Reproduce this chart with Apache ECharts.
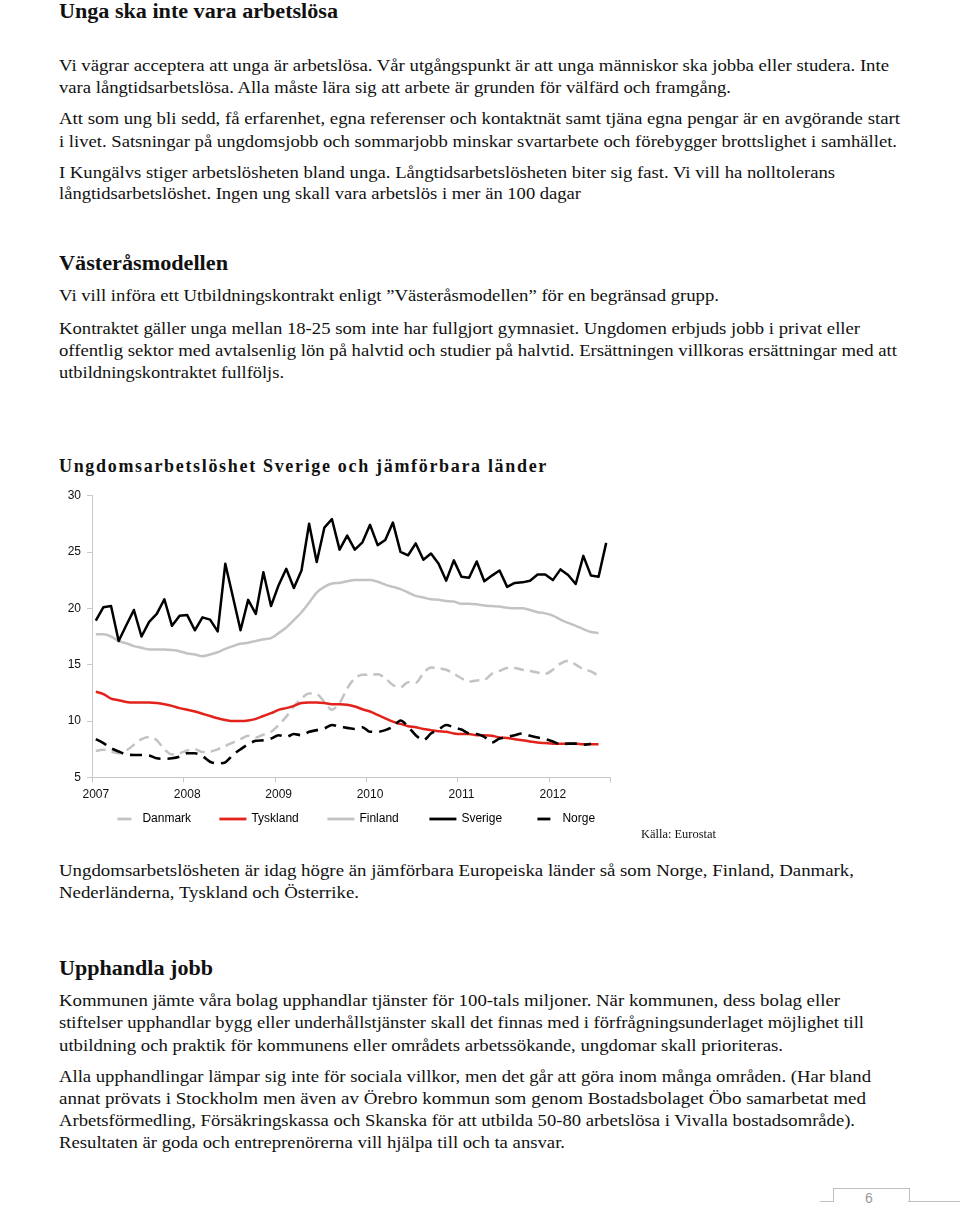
<!DOCTYPE html>
<html>
<head>
<meta charset="utf-8">
<script src="https://cdn.jsdelivr.net/npm/echarts@6/dist/echarts.min.js"></script>
<style>
  html, body { margin: 0; padding: 0; background: #fff; }
  body { width: 960px; height: 1209px; position: relative; overflow: hidden; font-family: "Liberation Serif", "DejaVu Serif", serif; color: #111; }
  .ln { position: absolute; left: 59px; white-space: nowrap; font-size: 16px; line-height: 22px; transform-origin: 0 50%; }
  .h { font-weight: bold; font-size: 20px; line-height: 26px; }
  .ct { font-weight: bold; font-size: 18px; line-height: 22px; }
  #chart { position: absolute; left: 0; top: 450px; width: 700px; height: 400px; }
  .src { position: absolute; left: 641px; white-space: nowrap; font-size: 12px; line-height: 14px; transform-origin: 0 50%; }
  .pg { position: absolute; border-color: #bfbfbf; border-style: solid; border-width: 0; }
</style>
</head>
<body>
<div class="ln h" style="top:-2px" data-w="279">Unga ska inte vara arbetslösa</div>

<div class="ln" style="top:55px" data-w="830">Vi vägrar acceptera att unga är arbetslösa. Vår utgångspunkt är att unga människor ska jobba eller studera. Inte</div>
<div class="ln" style="top:77px" data-w="672">vara långtidsarbetslösa. Alla måste lära sig att arbete är grunden för välfärd och framgång.</div>
<div class="ln" style="top:108px" data-w="841">Att som ung bli sedd, få erfarenhet, egna referenser och kontaktnät samt tjäna egna pengar är en avgörande start</div>
<div class="ln" style="top:131px" data-w="838">i livet. Satsningar på ungdomsjobb och sommarjobb minskar svartarbete och förebygger brottslighet i samhället.</div>
<div class="ln" style="top:162px" data-w="776">I Kungälvs stiger arbetslösheten bland unga. Långtidsarbetslösheten biter sig fast. Vi vill ha nolltolerans</div>
<div class="ln" style="top:183px" data-w="522">långtidsarbetslöshet. Ingen ung skall vara arbetslös i mer än 100 dagar</div>

<div class="ln h" style="top:250px" data-w="169">Västeråsmodellen</div>
<div class="ln" style="top:285px" data-w="660">Vi vill införa ett Utbildningskontrakt enligt ”Västeråsmodellen” för en begränsad grupp.</div>
<div class="ln" style="top:318px" data-w="801">Kontraktet gäller unga mellan 18-25 som inte har fullgjort gymnasiet. Ungdomen erbjuds jobb i privat eller</div>
<div class="ln" style="top:340px" data-w="838">offentlig sektor med avtalsenlig lön på halvtid och studier på halvtid. Ersättningen villkoras ersättningar med att</div>
<div class="ln" style="top:362px" data-w="225">utbildningskontraktet fullföljs.</div>

<div class="ln ct" id="ctitle" style="top:455px" data-ls="489">Ungdomsarbetslöshet Sverige och jämförbara länder</div>

<div id="chart"></div>
<div class="src" style="top:827px" data-w="75">Källa: Eurostat</div>

<div class="ln" style="top:860px" data-w="795">Ungdomsarbetslösheten är idag högre än jämförbara Europeiska länder så som Norge, Finland, Danmark,</div>
<div class="ln" style="top:882px" data-w="300">Nederländerna, Tyskland och Österrike.</div>

<div class="ln h" style="top:955px" data-w="154">Upphandla jobb</div>
<div class="ln" style="top:990px" data-w="781">Kommunen jämte våra bolag upphandlar tjänster för 100-tals miljoner. När kommunen, dess bolag eller</div>
<div class="ln" style="top:1012px" data-w="805">stiftelser upphandlar bygg eller underhållstjänster skall det finnas med i förfrågningsunderlaget möjlighet till</div>
<div class="ln" style="top:1035px" data-w="724">utbildning och praktik för kommunens eller områdets arbetssökande, ungdomar skall prioriteras.</div>
<div class="ln" style="top:1066px" data-w="812">Alla upphandlingar lämpar sig inte för sociala villkor, men det går att göra inom många områden. (Har bland</div>
<div class="ln" style="top:1088px" data-w="807">annat prövats i Stockholm men även av Örebro kommun som genom Bostadsbolaget Öbo samarbetat med</div>
<div class="ln" style="top:1110px" data-w="796">Arbetsförmedling, Försäkringskassa och Skanska för att utbilda 50-80 arbetslösa i Vivalla bostadsområde).</div>
<div class="ln" style="top:1132px" data-w="506">Resultaten är goda och entreprenörerna vill hjälpa till och ta ansvar.</div>

<div class="pg" style="left:820px; top:1201px; width:14px; border-top-width:1px;"></div>
<div class="pg" style="left:833px; top:1188px; width:75px; height:13px; border-width:1px 1px 0 1px;"></div>
<div class="pg" style="left:908px; top:1201px; width:52px; border-top-width:1px;"></div>
<div style="position:absolute; left:865px; top:1190px; font-family:'Liberation Sans',sans-serif; font-size:14px; line-height:16px; color:#9a9a9a;">6</div>

<script>
// ---- data ----
const months = [
  '2007-01','2007-02','2007-03','2007-04','2007-05','2007-06','2007-07','2007-08','2007-09','2007-10','2007-11','2007-12',
  '2008-01','2008-02','2008-03','2008-04','2008-05','2008-06','2008-07','2008-08','2008-09','2008-10','2008-11','2008-12',
  '2009-01','2009-02','2009-03','2009-04','2009-05','2009-06','2009-07','2009-08','2009-09','2009-10','2009-11','2009-12',
  '2010-01','2010-02','2010-03','2010-04','2010-05','2010-06','2010-07','2010-08','2010-09','2010-10','2010-11','2010-12',
  '2011-01','2011-02','2011-03','2011-04','2011-05','2011-06','2011-07','2011-08','2011-09','2011-10','2011-11','2011-12',
  '2012-01','2012-02','2012-03','2012-04','2012-05','2012-06','2012-07','2012-08'
];
const yTicks = [5, 10, 15, 20, 25, 30];
const seriesNames = ['Danmark', 'Tyskland', 'Finland', 'Sverige', 'Norge'];

const danmark = [7.35,7.45,7.3,7.15,7.4,7.9,8.4,8.6,8.3,7.5,
  7.05,7.15,7.4,7.5,7.25,7.3,7.5,7.8,8.1,8.4,
  8.7,8.55,8.8,9.05,9.65,10.4,11.3,12.0,12.45,12.4,
  11.7,11.0,11.6,12.9,13.8,14.1,14.1,14.15,13.8,13.2,
  13.0,13.45,13.4,14.25,14.75,14.7,14.55,14.2,13.8,13.5,
  13.6,13.65,14.2,14.45,14.7,14.7,14.55,14.45,14.3,14.2,
  14.55,15.1,15.35,15.0,14.6,14.4,14.0];
const tyskland = [12.6,12.4,12.0,11.85,11.7,11.65,11.65,11.65,11.6,11.5,
  11.35,11.15,11.0,10.85,10.65,10.45,10.25,10.1,10.0,10.0,
  10.05,10.2,10.45,10.7,11.0,11.15,11.35,11.6,11.65,11.65,
  11.6,11.5,11.5,11.45,11.3,11.05,10.85,10.55,10.25,9.95,
  9.75,9.55,9.45,9.3,9.2,9.1,9.05,8.9,8.85,8.85,
  8.75,8.75,8.7,8.55,8.5,8.4,8.3,8.2,8.1,8.05,
  8.0,8.0,8.0,8.0,7.95,7.95,7.95];
const finland = [17.7,17.7,17.5,17.1,16.9,16.65,16.5,16.35,16.35,16.35,
  16.3,16.2,16.0,15.9,15.75,15.9,16.1,16.4,16.65,16.85,
  16.95,17.1,17.25,17.35,17.8,18.3,18.95,19.65,20.5,21.4,
  21.9,22.2,22.25,22.4,22.5,22.5,22.5,22.35,22.1,21.9,
  21.7,21.4,21.1,20.95,20.8,20.75,20.65,20.6,20.4,20.4,
  20.35,20.25,20.2,20.15,20.05,20.0,20.0,19.85,19.65,19.55,
  19.35,19.0,18.7,18.45,18.15,17.9,17.8];
const sverige = [18.9,20.1,20.2,17.1,18.5,19.85,17.5,18.8,19.5,20.8,
  18.45,19.35,19.4,18.05,19.2,19.0,17.95,23.95,21.0,18.05,
  20.75,19.5,23.2,20.2,22.05,23.5,21.8,23.35,27.5,24.1,
  27.15,27.9,25.2,26.45,25.2,25.85,27.4,25.6,26.05,27.6,
  25.0,24.7,25.75,24.3,24.85,23.95,22.45,24.25,22.8,22.7,
  24.15,22.4,22.9,23.35,21.9,22.25,22.3,22.45,23.0,23.0,
  22.5,23.45,22.95,22.15,24.65,22.9,22.8,25.8];
const norge = [8.4,8.05,7.6,7.3,7.05,7.0,7.0,6.95,6.7,6.65,
  6.7,6.85,7.15,7.15,6.9,6.4,6.25,6.35,7.0,7.5,
  7.95,8.25,8.3,8.45,8.75,8.6,8.85,8.75,9.05,9.2,
  9.35,9.65,9.5,9.4,9.3,9.45,9.05,9.05,9.2,9.5,
  10.05,9.5,8.75,8.3,8.9,9.25,9.65,9.45,9.25,8.9,
  8.85,8.6,8.1,8.45,8.6,8.75,8.9,8.7,8.55,8.4,
  8.2,7.95,8.0,8.0,7.9,8.0];

// ---- text fitting (keeps text as real text) ----
document.querySelectorAll('[data-w]').forEach(el => {
  const t = +el.dataset.w, w = el.getBoundingClientRect().width;
  if (t && w) el.style.transform = 'scaleX(' + (t / w) + ')';
});
(function () {
  const el = document.getElementById('ctitle');
  const t = +el.dataset.ls, w = el.getBoundingClientRect().width;
  const n = el.textContent.length;
  el.style.letterSpacing = ((t - w) / n) + 'px';
})();

// ---- chart ----
const chart = echarts.init(document.getElementById('chart'), null, { renderer: 'canvas' });
const font = "'Liberation Sans', Arial, sans-serif";
const legendLefts = [104, 213, 321, 423, 524];
const styles = {
  Danmark:  { color: '#c3c3c3', width: 2.5, type: [10, 6], smooth: 0.3, data: danmark, legendDash: [14, 13] },
  Tyskland: { color: '#e3221c', width: 2.5, type: 'solid', smooth: 0.3, data: tyskland },
  Finland:  { color: '#c3c3c3', width: 2.5, type: 'solid', smooth: 0.3, data: finland },
  Sverige:  { color: '#000000', width: 2.5, type: 'solid', smooth: false, data: sverige },
  Norge:    { color: '#000000', width: 2.6, type: [12, 7], smooth: 0.3, data: norge, legendDash: [13, 14] }
};

chart.setOption({
  animation: false,
  grid: { left: 92, top: 45.5, width: 518, height: 282, containLabel: false },
  legend: seriesNames.map((n, i) => ({
    data: [n], left: legendLefts[i], top: 358, itemWidth: 27, itemHeight: 12, itemGap: 0,
    textStyle: { fontFamily: font, fontSize: 12, color: '#000' },
    itemStyle: { color: 'rgba(0,0,0,0)', borderWidth: 0, opacity: 0 },
    lineStyle: styles[n].legendDash
      ? { type: styles[n].legendDash, dashOffset: 20, width: 2.8, cap: 'butt' }
      : { width: 2.8, cap: 'butt' },
    selectedMode: false
  })),
  xAxis: {
    type: 'category', data: months, boundaryGap: true,
    axisLine: { show: true, lineStyle: { color: '#c8c8c8', width: 1 } },
    axisTick: { show: true, interval: 11, length: 5, lineStyle: { color: '#c8c8c8' } },
    axisLabel: { interval: 11, margin: 11, fontFamily: font, fontSize: 12, color: '#111',
      formatter: v => v.slice(0, 4) },
    splitLine: { show: false }
  },
  yAxis: {
    type: 'value', min: yTicks[0], max: yTicks[yTicks.length - 1], interval: 5,
    axisLine: { show: true, lineStyle: { color: '#c8c8c8', width: 1 } },
    axisTick: { show: true, length: 5, lineStyle: { color: '#c8c8c8' } },
    axisLabel: { margin: 11, fontFamily: font, fontSize: 12, color: '#111' },
    splitLine: { show: false }
  },
  series: seriesNames.map(n => ({
    name: n, type: 'line', data: styles[n].data, symbol: 'none', showSymbol: false,
    smooth: styles[n].smooth, color: styles[n].color,
    lineStyle: { color: styles[n].color, width: styles[n].width, type: styles[n].type, cap: 'butt', join: 'round' },
    emphasis: { disabled: true }, silent: true
  }))
});
</script>
</body>
</html>
